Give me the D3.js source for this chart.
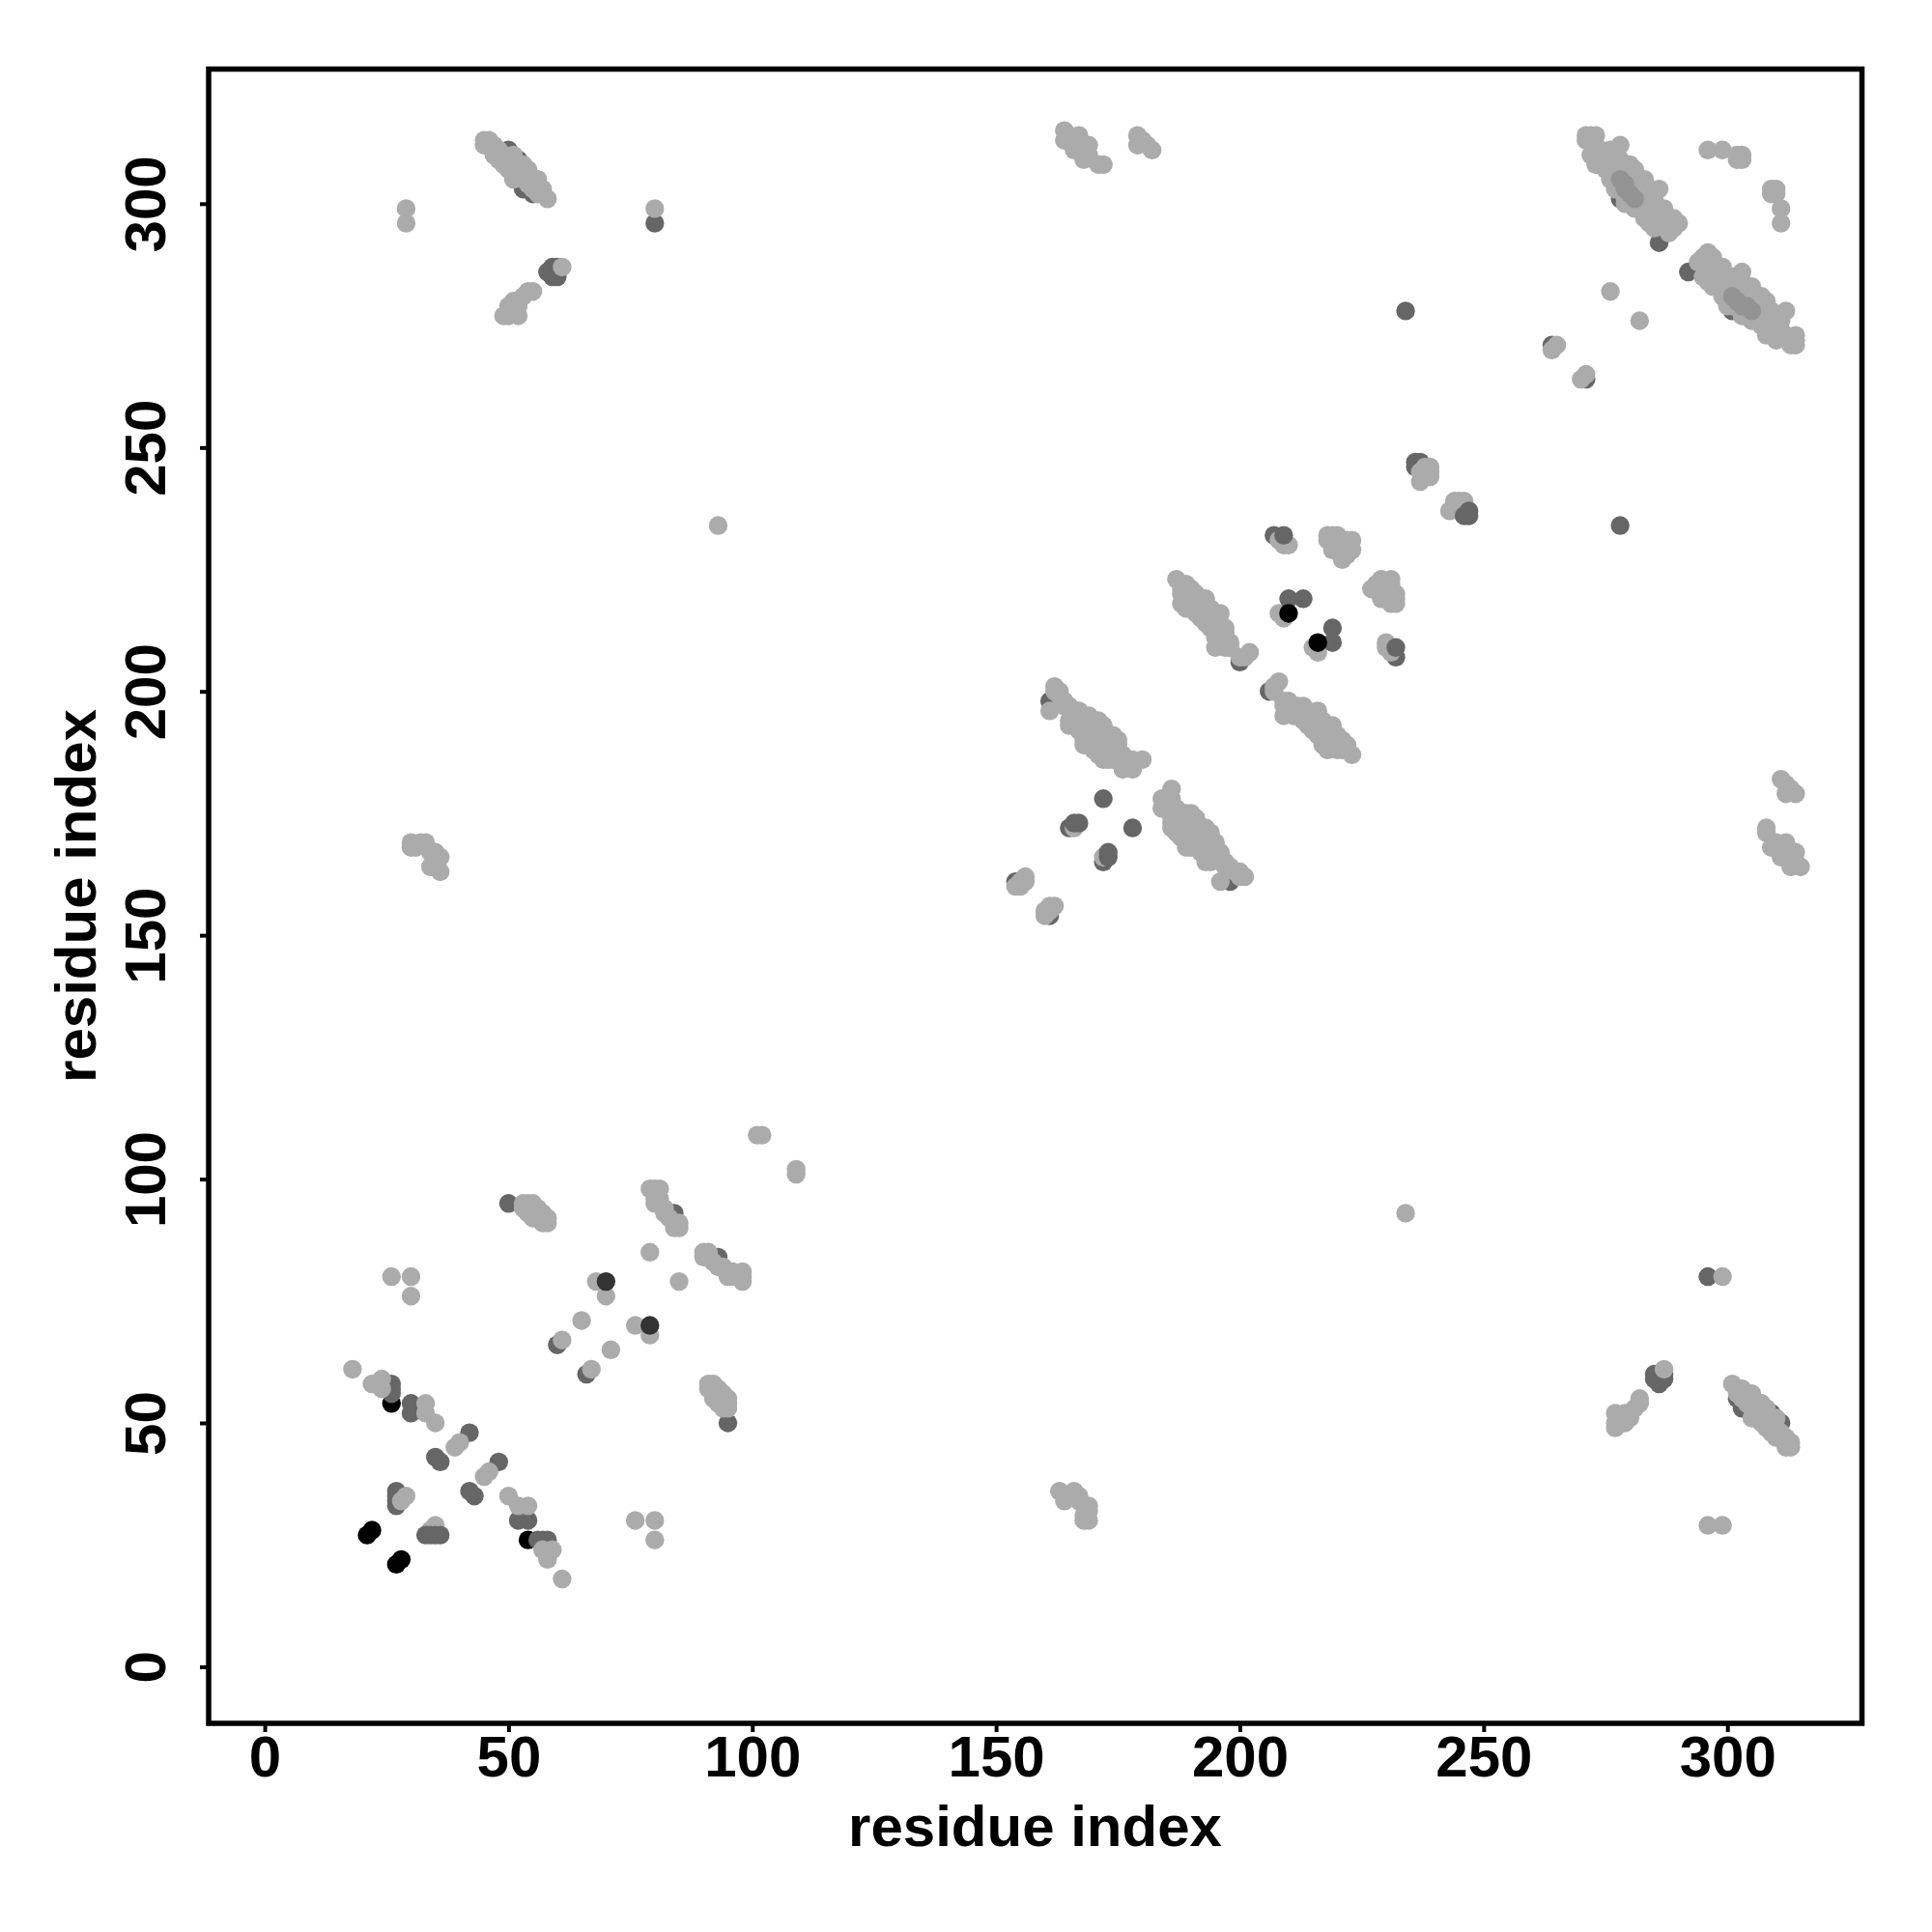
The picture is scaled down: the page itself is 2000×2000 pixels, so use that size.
<!DOCTYPE html>
<html>
<head>
<meta charset="utf-8">
<script src="https://cdn.jsdelivr.net/npm/d3@7"></script>
<style>
html,body{margin:0;padding:0;background:#fff}
svg{display:block}
text{font-family:"Liberation Sans",Arial,sans-serif;font-weight:bold;fill:#000}
</style>
</head>
<body>
<svg id="chart" width="2000" height="2000"></svg>
<script>
// Residue pairs [i, j]. The map is symmetric: each pair is shown as (i,j) and (j,i).
const tickLabels = [0, 50, 100, 150, 200, 250, 300];
const axisTitle = "residue index";

const blackBack = [[21,27],[22,28],[26,54]];
const midBack = [
  [26,58],[26,57],[26,56],[30,54],[30,52],
  [42,48],[35,43],[36,42],[50,95],[60,66],[84,93],
  [50,311],[52,309],[53,303],[55,302],[58,286],[59,287],[60,287],[59,285],[60,285],
  [154,161],[161,198],[165,172],[200,206],[207,232],
  [264,271],[278,301],[172,178],[234,278],[80,296],[286,292]
];
const crossBack = [[27,33],[27,34],[27,35],[27,36],[236,247],[237,247],[236,246]];
const lightContacts = [
  [18,61],[22,58],[24,59],[24,57],[33,54],[33,52],[35,50],[39,45],[40,46],[28,34],[29,35],[26,80],[30,80],[30,76],
  [29,296],[29,299],[80,299],[93,234],[276,282],[264,270],[265,271],[101,109],[102,109],
  [65,71],[61,67],[68,79],[70,76],[79,85],
  [53,95],[54,95],[55,95],[56,94],[54,93],[55,94],[56,93],[55,92],[57,91],[57,93],[58,92],[58,91],[54,94],[53,94],
  [79,98],[81,98],[80,98],[80,96],[80,95],[81,95],[81,96],[82,93],[82,94],[83,92],[84,90],[85,90],
  [30,169],[30,168],[31,168],[32,169],[33,169],[34,167],[35,165],[34,164],[36,166],[36,163],[35,167],
  [164,315],[164,313],[165,314],[166,313],[167,314],[167,312],[169,312],[168,311],[166,311],[168,309],[169,310],[171,308],[172,308],
  [179,314],[179,312],[180,313],[181,312],[182,311],
  [154,160],[155,161],[156,162],[155,160],[156,161],
  [161,196],[162,201],[162,200],[163,199],[163,200],[164,198],[164,197],[165,197],[166,196],[167,196],[165,194],[165,193],[166,193],[167,194],[168,194],[168,193],
  [167,192],[169,195],[169,192],[170,192],[171,193],[172,193],[171,194],[168,191],[168,190],[168,189],[170,190],[170,188],[171,189],[171,187],[172,192],[172,190],[173,191],[174,191],[175,190],
  [172,188],[173,188],[174,189],[175,189],[175,187],[172,186],[173,186],
  [174,188],[174,186],[176,187],[177,185],[176,184],[178,186],[178,184],[180,186],
  [187,223],[189,222],[188,221],[188,220],[190,221],[191,220],[189,219],[190,218],[188,218],[189,217],[192,219],[193,219],[191,218],[191,216],[190,217],[192,217],[193,217],[194,217],
  [192,215],[193,215],[193,214],[194,215],[195,214],[194,213],[196,216],[196,214],[196,212],[197,212],[197,213],
  [195,211],[196,211],[197,211],[195,209],[197,209],[198,209],[198,210],[200,207],[201,207],[202,208],
  [208,231],[210,230],[209,230],[208,216],[209,215],[166,172],
  [218,232],[219,232],[220,232],[218,231],[219,231],[221,231],[222,231],[223,231],[220,230],[221,230],[222,230],[223,229],[221,229],[219,229],[222,228],[221,227],
  [237,243],[238,244],[239,244],[239,245],[239,246],[238,246],[237,245],
  [271,314],[272,314],[273,314],[271,313],[273,312],[274,311],[272,310],[275,310],[276,311],[278,312],[277,310],[274,309],[276,309],[278,309],[275,307],[278,307],[280,308],[281,307],
  [279,306],[276,305],[280,305],[282,305],[283,305],[281,304],[283,302],[284,303],[282,302],[285,301],[286,303],[284,300],[282,299],[287,299],[285,298],[286,297],[289,297],[287,296],[290,296],[285,295],[289,295],[288,294],
  [277,303],[279,301],[279,300],[281,299],[283,297],[284,296],[273,308],
  [296,311],[299,311],[302,310],[303,310],[302,309],[303,309],
  [45,313],[46,313],[45,312],[47,312],[48,311],[47,310],[49,310],[51,310],[50,309],[49,308],[53,308],[54,307],[51,307],[52,306],[54,306],[51,305],[53,305],[55,305],[56,305],[54,304],[57,303],[55,303],[56,302],[58,301],[48,309],[50,307],
  [49,277],[50,277],[52,277],[51,278],[50,279],[52,279],[51,280],[53,281],[54,282],[55,282]
];
const toneContacts = [[278,305],[279,303],[280,302],[281,301],[279,304]];
const midFront = [[166,173],[167,173],[209,232],[210,219],[213,219]];
const lightTop = [[61,287],[85,91]];
const darkFront = [[70,79]];
const blackFront = [[210,216]];

const shades = {black:"#000000", mid:"#666666", light:"#ABABAB", tone:"#939393", dark:"#333333"};

const x = d3.scaleLinear().domain([-11.5,327.6]).range([216,1927.5]);
const y = d3.scaleLinear().domain([-11.6,327.6]).range([1784,71.5]);
const svg = d3.select("#chart");

const both = a => a.map(d=>[d[0],d[1]]).concat(a.map(d=>[d[1],d[0]]));
const layers = [
  [both(blackBack), shades.black],
  [both(midBack), shades.mid],
  [crossBack, shades.mid],
  [both(lightContacts), shades.light],
  [both(toneContacts), shades.tone],
  [crossBack.map(d=>[d[1],d[0]]), shades.mid],
  [both(midFront), shades.mid],
  [both(lightTop), shades.light],
  [both(darkFront), shades.dark],
  [both(blackFront), shades.black]
];
layers.forEach(([pts,col])=>{
  svg.append("g").selectAll("circle").data(pts).join("circle")
    .attr("cx",d=>x(d[0])).attr("cy",d=>y(d[1])).attr("r",9.7).attr("fill",col);
});

const xAxis = d3.axisBottom(x).tickValues(tickLabels).tickSize(9).tickPadding(7);
const gx = svg.append("g").attr("transform","translate(0,1784)").call(xAxis);
gx.select(".domain").remove();
gx.selectAll(".tick line").attr("stroke","#000").attr("stroke-width",4);
gx.selectAll("text").attr("font-size",60).attr("fill","#000").attr("dy",null).attr("y",55);

const yAxis = d3.axisLeft(y).tickValues(tickLabels).tickSize(9).tickPadding(7);
const gy = svg.append("g").attr("transform","translate(216,0)").call(yAxis);
gy.select(".domain").remove();
gy.selectAll(".tick line").attr("stroke","#000").attr("stroke-width",4);
gy.selectAll("text").attr("font-size",60).attr("fill","#000").attr("dy",null).attr("x",null)
  .attr("text-anchor","middle").attr("transform","translate(-45,0) rotate(-90)");

svg.append("rect").attr("x",216).attr("y",71.5).attr("width",1711.5).attr("height",1712.5)
  .attr("fill","none").attr("stroke","#000").attr("stroke-width",5.5);

svg.append("text").attr("x",1071.5).attr("y",1911).attr("text-anchor","middle").attr("font-size",60).text(axisTitle);
svg.append("text").attr("transform","translate(99,927.5) rotate(-90)").attr("text-anchor","middle").attr("font-size",60).text(axisTitle);
</script>
</body>
</html>
